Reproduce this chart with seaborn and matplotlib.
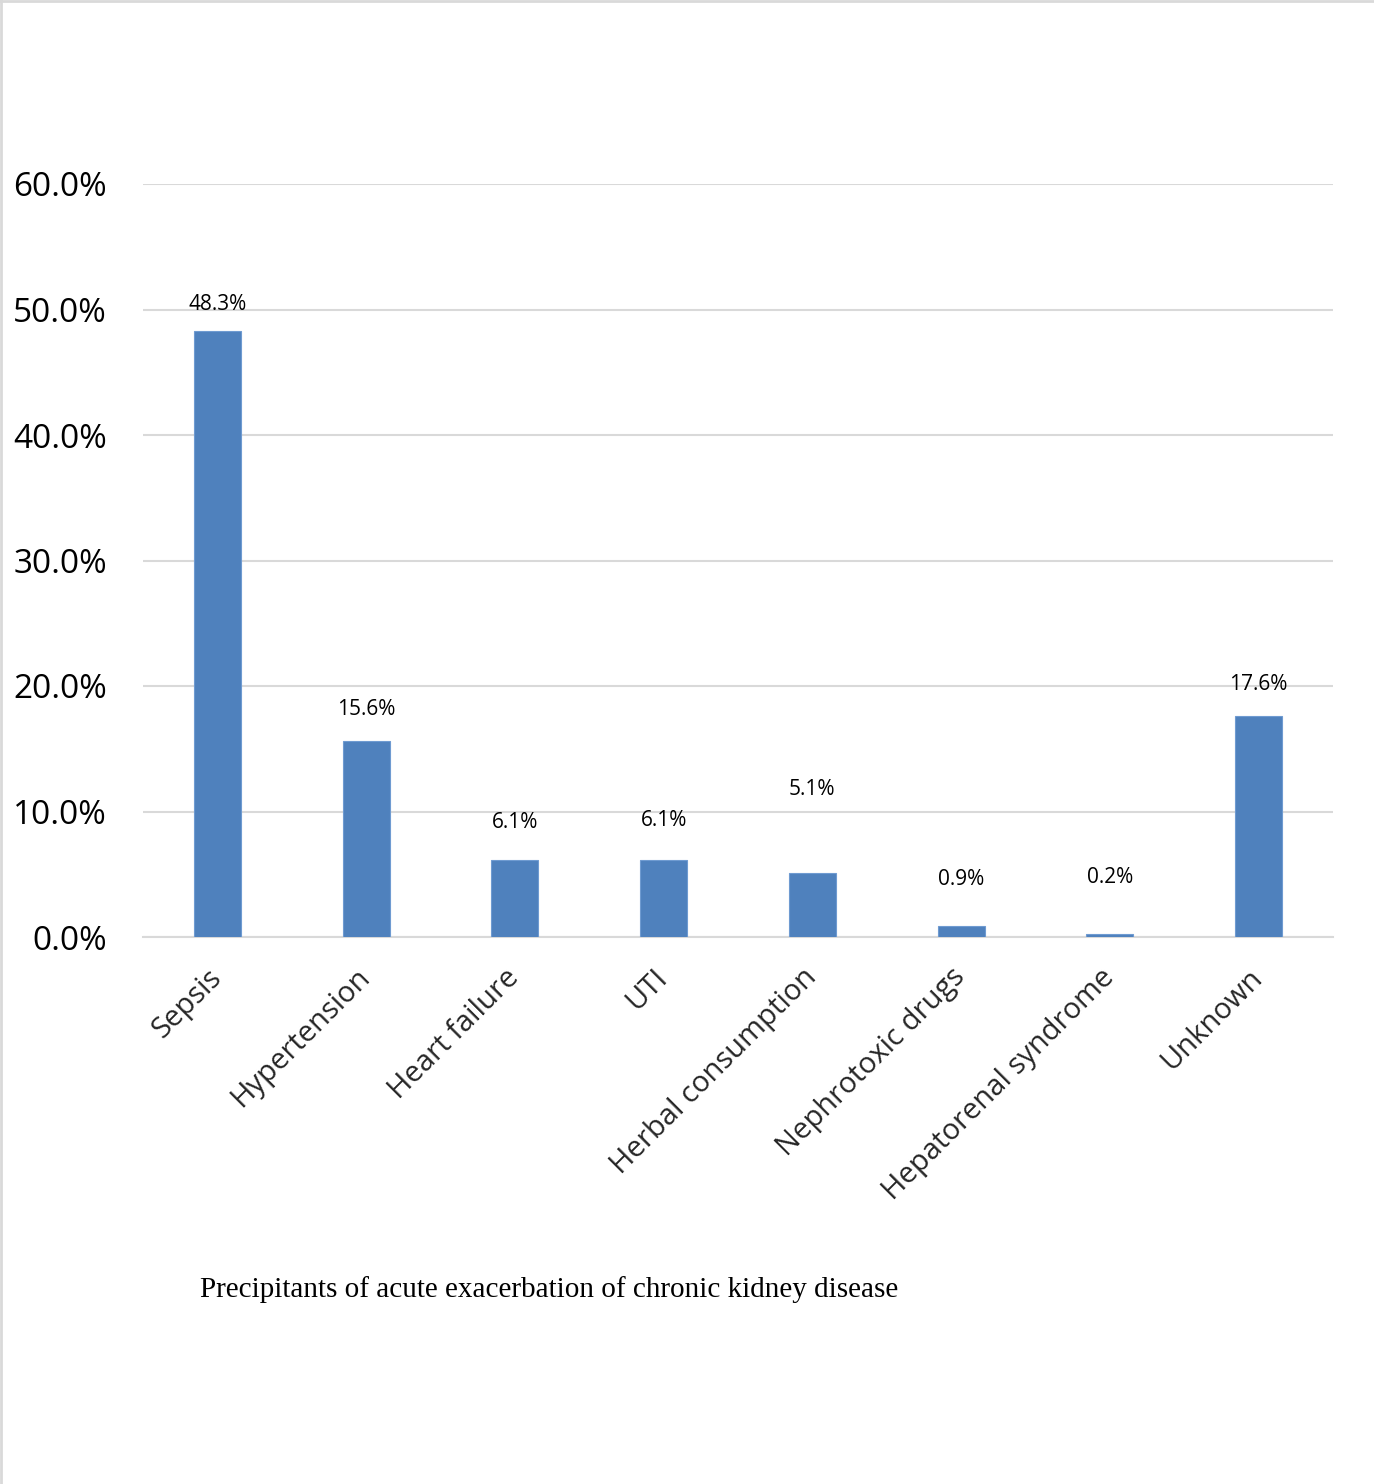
import matplotlib
matplotlib.use("Agg")
import matplotlib.pyplot as plt
import seaborn as sns
import pandas as pd
from matplotlib.lines import Line2D

categories = ["Sepsis", "Hypertension", "Heart failure", "UTI", "Herbal consumption",
              "Nephrotoxic drugs", "Hepatorenal syndrome", "Unknown"]
values = [48.3, 15.6, 6.1, 6.1, 5.1, 0.9, 0.2, 17.6]
value_labels = ["48.3%", "15.6%", "6.1%", "6.1%", "5.1%", "0.9%", "0.2%", "17.6%"]
yticks = [0, 10, 20, 30, 40, 50, 60]
ytick_labels = ["0.0%", "10.0%", "20.0%", "30.0%", "40.0%", "50.0%", "60.0%"]
caption = "Precipitants of acute exacerbation of chronic kidney disease"

# label offsets above bar tops (points), mimicking the original placement
label_dy = [19, 23, 27, 29, 60, 33, 41, 23]

sns.set_theme(style="white")
plt.rcParams["font.family"] = ["Open Sans", "DejaVu Sans"]

df = pd.DataFrame({"cat": categories, "val": values})

fig = plt.figure(figsize=(13.74, 14.84), dpi=100)
ax = fig.add_axes([143/1374, 1-937/1484, (1333-143)/1374, (937-184)/1484])

sns.barplot(data=df, x="cat", y="val", ax=ax, color="#4F81BD", width=0.316,
            saturation=1, edgecolor="#6F9BD1", linewidth=0.8, zorder=3)

ax.set_ylim(0, 60)
ax.set_xlim(-0.5, len(categories) - 0.5)
ax.set_yticks(yticks)
ax.set_yticklabels(ytick_labels, fontsize=24)
ax.yaxis.grid(True, color="#D9D9D9", linewidth=1.5, zorder=0)
ax.xaxis.grid(False)
for s in ["top", "right", "left"]:
    ax.spines[s].set_visible(False)
ax.spines["bottom"].set_color("#D9D9D9")
ax.spines["bottom"].set_linewidth(1.5)
ax.tick_params(axis="y", length=0, pad=26, labelcolor="black")
ax.tick_params(axis="x", length=0, pad=26)
ax.set_xlabel("")
ax.set_ylabel("")
ax.set_xticks(range(len(categories)))
ax.set_xticklabels(categories, rotation=45, ha="right", rotation_mode="anchor",
                   fontsize=21, va="center")

for i, (v, lab, dy) in enumerate(zip(values, value_labels, label_dy)):
    ax.annotate(lab, xy=(i, v), xytext=(0, dy), textcoords="offset points",
                ha="center", va="center", fontsize=15, color="black")

fig.text(200/1374, 1-1290/1484, caption, fontsize=21, family="Liberation Serif",
         ha="left", va="center", color="black")

# figure border (top and left)
fig.add_artist(Line2D([0.001, 0.001], [0, 1], transform=fig.transFigure,
                      color="#D9D9D9", linewidth=2))
fig.add_artist(Line2D([0, 1], [0.999, 0.999], transform=fig.transFigure,
                      color="#D9D9D9", linewidth=2))

fig.savefig("out.png", dpi=100, facecolor="white")
